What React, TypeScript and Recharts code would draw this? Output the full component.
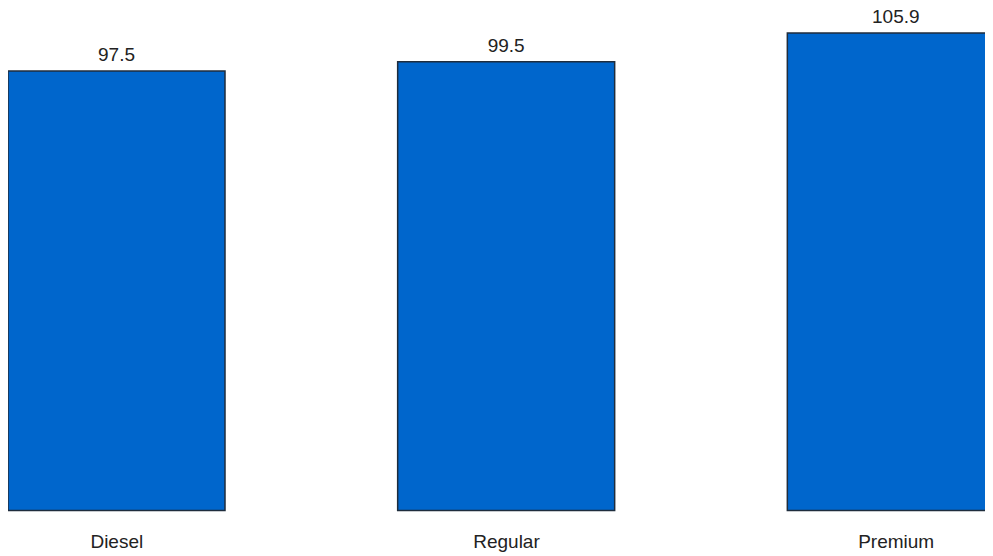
import React from "react";
import { BarChart, Bar, XAxis, YAxis, LabelList } from "recharts";

const categories = ["Diesel", "Regular", "Premium"];
const values = [97.5, 99.5, 105.9];

const data = categories.map((name, i) => ({ name, value: values[i] }));

export default function App() {
  return (
    <div style={{ width: 985, overflow: "hidden" }}>
      <BarChart
        width={1169}
        height={547.5}
        data={data}
        margin={{ top: 25, right: 0, bottom: 0, left: 0 }}
        barCategoryGap={0}
        style={{ marginLeft: -86 }}
      >
        <XAxis
          dataKey="name"
          axisLine={false}
          tickLine={false}
          tickSize={0}
          tickMargin={24}
          height={45}
          interval={0}
          tick={{ fill: "#222", fontSize: 19, fontFamily: "Liberation Sans, Arial, sans-serif" }}
        />
        <YAxis hide domain={[0, "dataMax"]} />
        <Bar
          dataKey="value"
          fill="#0066CC"
          stroke="#1f2d3d"
          strokeWidth={1.5}
          barSize={217}
          isAnimationActive={false}
        >
          <LabelList
            dataKey="value"
            position="top"
            offset={10}
            fill="#222"
            fontSize={19}
            fontFamily="Liberation Sans, Arial, sans-serif"
          />
        </Bar>
      </BarChart>
    </div>
  );
}
